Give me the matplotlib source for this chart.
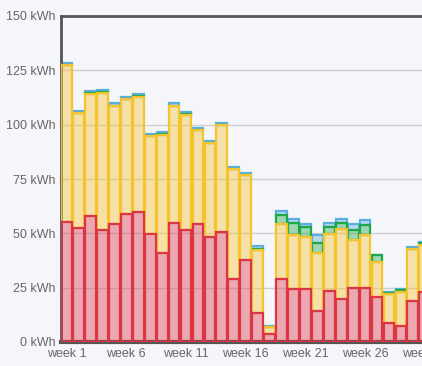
import matplotlib
matplotlib.use("Agg")
import matplotlib.pyplot as plt
import numpy as np

# weekly energy, kWh per segment (bottom -> top)
weeks = list(range(1, 32))
red = [55.4, 52.3, 58.1, 51.5, 54.2, 59.0, 60.0, 49.7, 41.1, 54.8,
       51.5, 54.2, 48.2, 50.7, 29.1, 37.7, 13.5, 3.7, 29.1, 24.5,
       24.2, 14.4, 23.6, 19.9, 24.9, 25.0, 20.7, 8.6, 7.2, 19.0, 23.0]
yellow_top = [127.3, 105.2, 114.0, 114.7, 108.5, 111.8, 112.9, 94.8, 95.4, 108.6,
              104.6, 97.4, 91.5, 99.8, 79.5, 76.8, 42.3, 6.8, 54.4, 49.3,
              48.5, 41.1, 49.8, 51.9, 46.8, 49.4, 37.0, 21.9, 23.2, 42.6, 44.6]
green = [0.2, 0.3, 0.4, 0.3, 0.3, 0.2, 0.3, 0.2, 0.2, 0.2,
         0.3, 0.2, 0.2, 0.2, 0.2, 0.2, 0.5, 0.0, 4.2, 5.4,
         4.3, 4.6, 3.3, 2.7, 4.7, 4.6, 2.9, 0.5, 0.7, 0.3, 0.8]
blue = [1.0, 1.0, 0.9, 1.0, 1.0, 0.9, 1.0, 0.9, 0.9, 1.0,
        1.1, 1.0, 1.0, 0.9, 0.8, 0.8, 1.2, 0.7, 1.8, 1.8,
        1.5, 3.4, 1.5, 2.2, 2.8, 2.1, 0.3, 0.6, 0.6, 0.7, 0.6]

yellow = list(np.array(yellow_top) - np.array(red))
tick_weeks = [1, 6, 11, 16, 21, 26, 31, 36]
yticks = [0, 25, 50, 75, 100, 125, 150]

bg = "#f5f6fa"
fig = plt.figure(figsize=(4.22, 3.66), dpi=100, facecolor=bg)
# axes runs past the right edge of the figure (cropped chart)
ax = fig.add_axes([61 / 422, 24 / 366, 500 / 422, 326 / 366], facecolor=bg)

x = np.array(weeks)
b1 = np.array(red)
b2 = b1 + np.array(yellow)
b3 = b2 + np.array(green)

series = [
    (red, 0, "#dc3545"),
    (yellow, b1, "#f5c32c"),
    (green, b2, "#1fa84a"),
    (blue, b3, "#5aaee0"),
]
# draw top segments first so the lower ones' borders sit on top
for i, (vals, bottom, col) in enumerate(reversed(series)):
    ax.bar(x, vals, bottom=bottom, width=0.9,
           facecolor=matplotlib.colors.to_rgba(col, 0.4),
           edgecolor=col, linewidth=1.6, zorder=2 + i)

px_per_week = 11.94
ax.set_xlim(0.53, 0.53 + 500 / px_per_week)
ax.set_ylim(0, 150)

ax.set_yticks(yticks)
ax.set_yticklabels([f"{v} kWh" for v in yticks])
ax.set_xticks(tick_weeks)
ax.set_xticklabels([f"week {w}" for w in tick_weeks])

ax.tick_params(length=0, labelsize=9, labelcolor="#666666", pad=4)
for lab in ax.get_xticklabels() + ax.get_yticklabels():
    lab.set_fontfamily("Liberation Sans")

ax.grid(axis="y", color="#cfcfcf", linewidth=1)
ax.set_axisbelow(True)

for side in ["left", "top", "bottom"]:
    ax.spines[side].set_color("#555555")
    ax.spines[side].set_linewidth(2)
ax.spines["bottom"].set_linewidth(3)
ax.spines["right"].set_visible(False)

fig.savefig("out.png", dpi=100, facecolor=bg)
